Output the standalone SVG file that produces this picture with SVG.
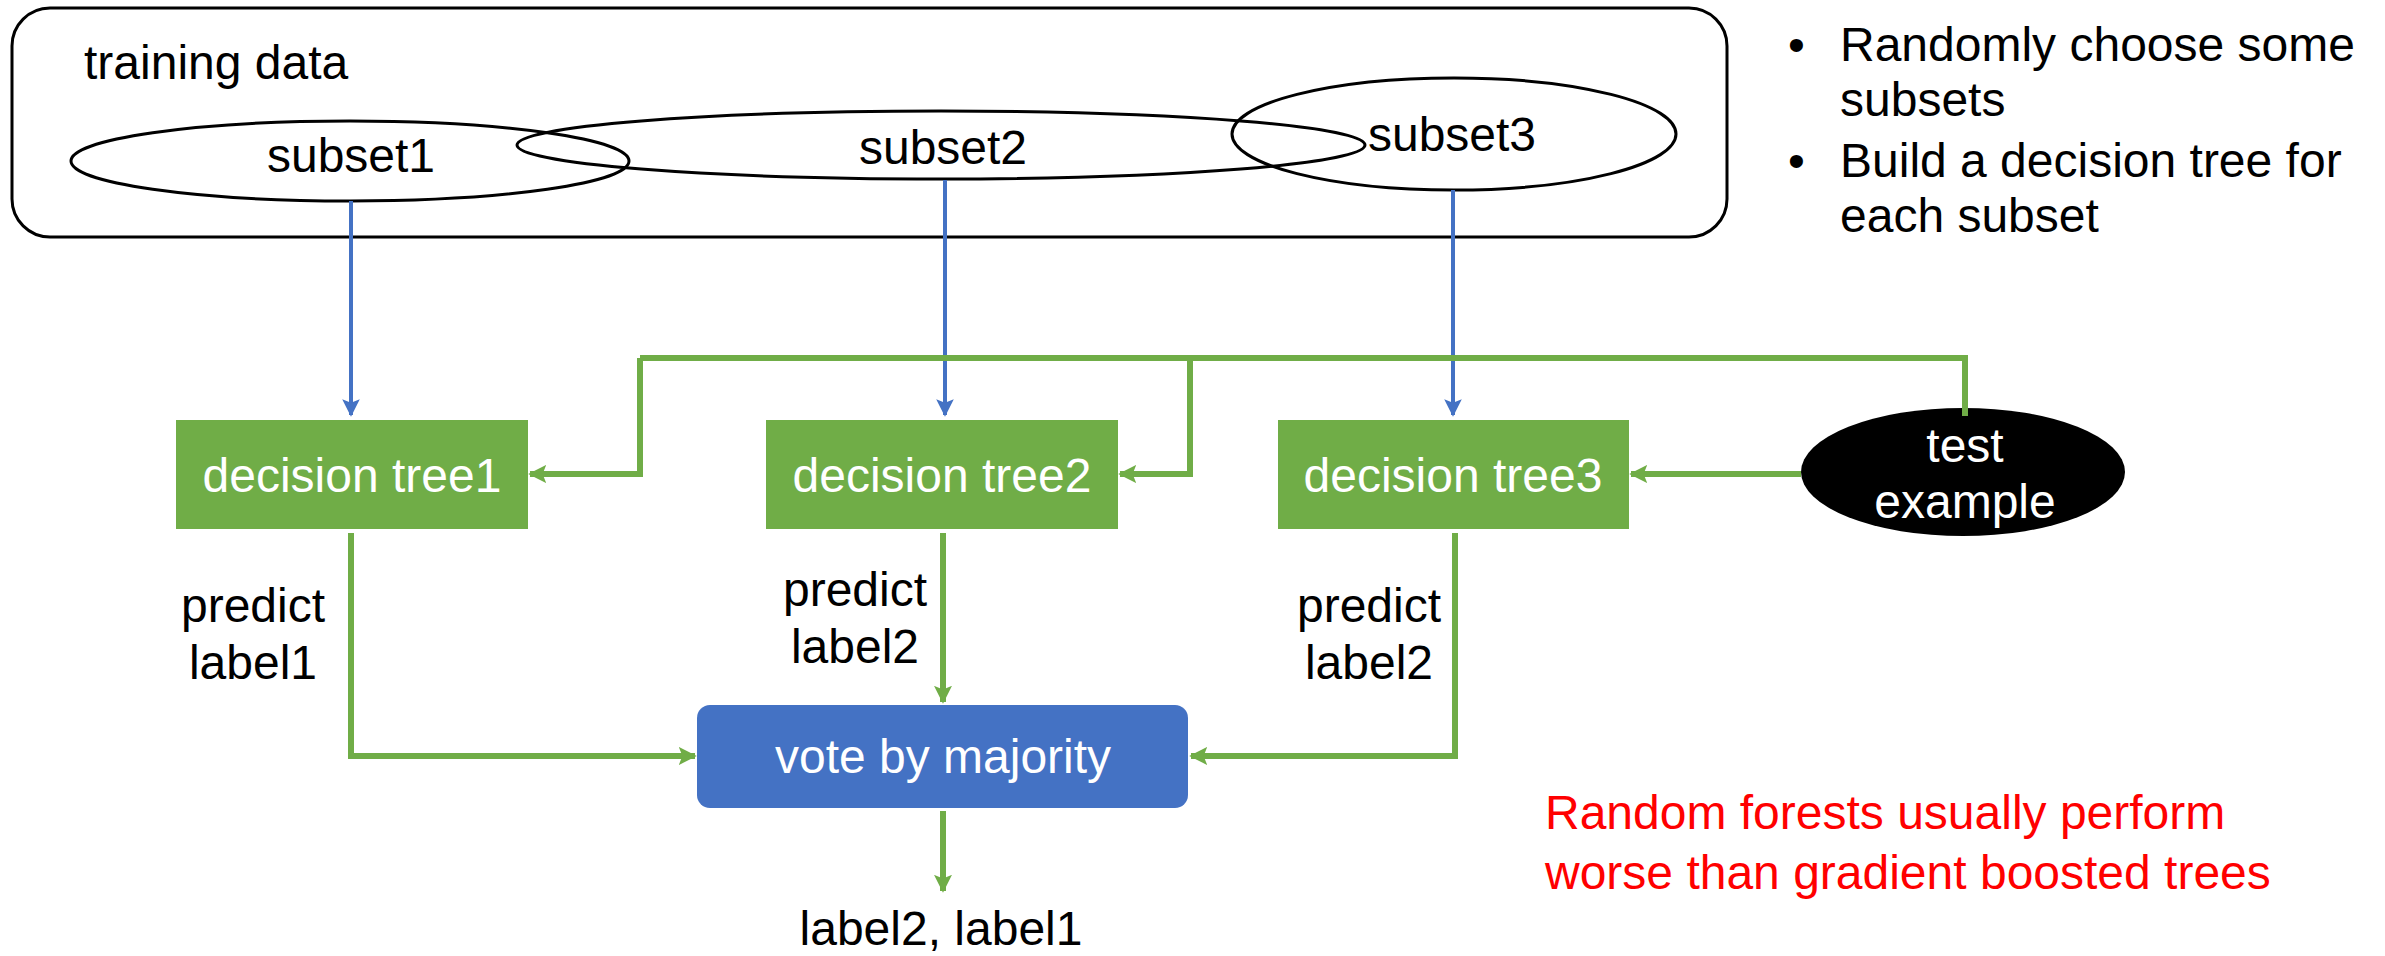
<svg xmlns="http://www.w3.org/2000/svg" width="2385" height="956" viewBox="0 0 2385 956">
  <style>
    text { font-family: "Liberation Sans", Arial, sans-serif; font-size: 48px; }
    .dark { fill: #000000; }
    .light { fill: #FFFFFF; }
    .note { fill: #FF0000; }
    .mid { text-anchor: middle; }
    .outline { fill: none; stroke: #000000; stroke-width: 3; }
    .tree { fill: #70AD47; }
    .vote { fill: #4472C4; }
    .blue { fill: none; stroke: #4472C4; stroke-width: 4; }
    .green { fill: none; stroke: #70AD47; stroke-width: 6; }
  </style>
  <defs>
    <marker id="arrow-blue" viewBox="0 0 10 10" refX="9" refY="5" markerWidth="4.4" markerHeight="4.4" orient="auto" markerUnits="strokeWidth">
      <path d="M0,0 L10,5 L0,10 L2,5 Z" fill="#4472C4"/>
    </marker>
    <marker id="arrow-green" viewBox="0 0 10 10" refX="9" refY="5" markerWidth="3" markerHeight="3" orient="auto" markerUnits="strokeWidth">
      <path d="M0,0 L10,5 L0,10 L2,5 Z" fill="#70AD47"/>
    </marker>
  </defs>

  <rect width="2385" height="956" fill="#FFFFFF"/>

  <!-- training data container with the three sampled subsets -->
  <g id="training-data">
    <rect class="outline" x="12" y="8" width="1715" height="229" rx="38" ry="38"/>
    <text class="dark" x="84" y="79">training data</text>
  </g>
  <g id="subset1">
    <ellipse class="outline" cx="350" cy="161" rx="279" ry="40"/>
    <text class="dark mid" x="351" y="172">subset1</text>
  </g>
  <g id="subset2">
    <ellipse class="outline" cx="941" cy="145" rx="424" ry="34"/>
    <text class="dark mid" x="943" y="164">subset2</text>
  </g>
  <g id="subset3">
    <ellipse class="outline" cx="1454" cy="134" rx="222" ry="56"/>
    <text class="dark mid" x="1452" y="151">subset3</text>
  </g>

  <!-- bullet notes -->
  <g id="notes">
    <text class="dark" x="1788" y="61">•</text>
    <text class="dark" x="1840" y="61">Randomly choose some</text>
    <text class="dark" x="1840" y="116">subsets</text>
    <text class="dark" x="1788" y="177">•</text>
    <text class="dark" x="1840" y="177">Build a decision tree for</text>
    <text class="dark" x="1840" y="232">each subset</text>
  </g>

  <!-- decision trees -->
  <g id="tree1">
    <rect class="tree" x="176" y="420" width="352" height="109"/>
    <text class="light mid" x="352" y="492">decision tree1</text>
  </g>
  <g id="tree2">
    <rect class="tree" x="766" y="420" width="352" height="109"/>
    <text class="light mid" x="942" y="492">decision tree2</text>
  </g>
  <g id="tree3">
    <rect class="tree" x="1278" y="420" width="351" height="109"/>
    <text class="light mid" x="1453" y="492">decision tree3</text>
  </g>

  <!-- test example -->
  <g id="test-example">
    <ellipse cx="1963" cy="472" rx="162" ry="64" fill="#000000"/>
    <text class="light mid" x="1965" y="462">test</text>
    <text class="light mid" x="1965" y="518">example</text>
  </g>

  <!-- majority vote -->
  <g id="vote">
    <rect class="vote" x="697" y="705" width="491" height="103" rx="13" ry="13"/>
    <text class="light mid" x="943" y="773">vote by majority</text>
  </g>

  <!-- predictions and result -->
  <g id="prediction-labels">
    <text class="dark mid" x="253" y="622">predict</text>
    <text class="dark mid" x="253" y="679">label1</text>
    <text class="dark mid" x="855" y="606">predict</text>
    <text class="dark mid" x="855" y="663">label2</text>
    <text class="dark mid" x="1369" y="622">predict</text>
    <text class="dark mid" x="1369" y="679">label2</text>
  </g>
  <g id="result">
    <text class="dark mid" x="941" y="945">label2, label1</text>
  </g>

  <g id="remark">
    <text class="note" x="1545" y="829">Random forests usually perform</text>
    <text class="note" x="1545" y="889">worse than gradient boosted trees</text>
  </g>

  <!-- connectors -->
  <g id="connectors">
    <path class="blue" d="M351,201 V415" marker-end="url(#arrow-blue)"/>
    <path class="blue" d="M945,180 V415" marker-end="url(#arrow-blue)"/>
    <path class="blue" d="M1453,190 V415" marker-end="url(#arrow-blue)"/>

    <path class="green" d="M640,358 H1965 V416"/>
    <path class="green" d="M640,358 V474 H530" marker-end="url(#arrow-green)"/>
    <path class="green" d="M1190,358 V474 H1120" marker-end="url(#arrow-green)"/>
    <path class="green" d="M1801,474 H1631" marker-end="url(#arrow-green)"/>

    <path class="green" d="M351,533 V756 H695" marker-end="url(#arrow-green)"/>
    <path class="green" d="M943,533 V702" marker-end="url(#arrow-green)"/>
    <path class="green" d="M1455,533 V756 H1191" marker-end="url(#arrow-green)"/>
    <path class="green" d="M943,811 V891" marker-end="url(#arrow-green)"/>
  </g>
</svg>
